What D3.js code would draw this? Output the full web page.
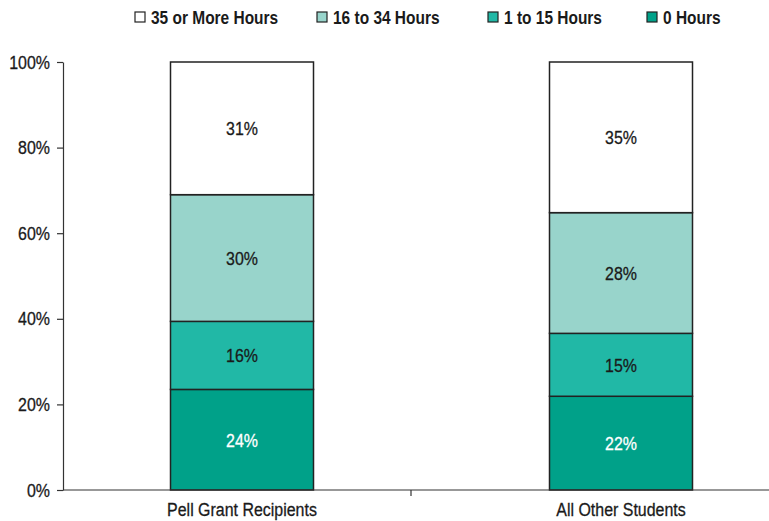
<!DOCTYPE html>
<html>
<head>
<meta charset="utf-8">
<script src="https://cdn.jsdelivr.net/npm/d3@7"></script>
<style>
  body { margin: 0; background: #fff; }
  svg { display: block; }
  text { font-family: "Liberation Sans", Arial, sans-serif; }
</style>
</head>
<body>
<div id="chart"></div>
<script>
// datos
const categorias = ["Pell Grant Recipients", "All Other Students"];
const series = ["0 Hours", "1 to 15 Hours", "16 to 34 Hours", "35 or More Hours"];
const pell = [23.5, 15.9, 29.6, 31.0];
const otros = [21.9, 14.7, 28.2, 35.2];
const ticksY = [0, 20, 40, 60, 80, 100];
const colores = ["#00a189", "#21b8a6", "#98d4cb", "#ffffff"];
const colorTexto = ["#ffffff", "#1a1a1a", "#1a1a1a", "#1a1a1a"];

const WIDTH = 769;
const HEIGHT = 521;
const ANGOSTO = 0.84; // no hay fuente condensada, se comprime el texto

const SVG = d3.select("#chart").append("svg")
    .attr("width", WIDTH).attr("height", HEIGHT);

// escalas
const y = d3.scaleLinear().domain([0, 100]).range([490, 62]);
const x = d3.scalePoint().domain(categorias).range([242, 621]);
const anchoBarra = 143;

// armar stack
const filas = categorias.map((c, i) => {
    const vals = i == 0 ? pell : otros;
    const fila = { cat: c };
    series.forEach((s, j) => fila[s] = vals[j]);
    return fila;
});
const stack = d3.stack().keys(series)(filas);

// barras
const grupos = SVG.append("g").selectAll("g")
    .data(stack)
    .join("g")
    .attr("fill", (d, i) => colores[i]);

grupos.selectAll("rect")
    .data(d => d)
    .join("rect")
    .attr("x", d => x(d.data.cat) - anchoBarra / 2)
    .attr("width", anchoBarra)
    .attr("y", d => y(d[1]))
    .attr("height", d => y(d[0]) - y(d[1]))
    .attr("stroke", "#222")
    .attr("stroke-width", 1.5);

// etiquetas
grupos.selectAll("text")
    .data((d, i) => d.map(v => ({ v: v, i: i })))
    .join("text")
    .attr("transform", d => `translate(${x(d.v.data.cat)},${y((d.v[0] + d.v[1]) / 2)}) scale(${ANGOSTO},1)`)
    .attr("dy", "0.36em")
    .attr("text-anchor", "middle")
    .attr("font-size", 19)
    .attr("fill", d => colorTexto[d.i])
    .attr("stroke", d => colorTexto[d.i])
    .attr("stroke-width", 0.3)
    .text(d => Math.round(d.v[1] - d.v[0]) + "%");

// eje Y
const ejeY = SVG.append("g")
    .attr("transform", "translate(63,0)")
    .call(d3.axisLeft(y).tickValues(ticksY).tickFormat(d => d + "%").tickSize(6).tickSizeOuter(0));
ejeY.select(".domain").attr("stroke", "#333").attr("stroke-width", 1.2);
ejeY.selectAll(".tick line").attr("stroke", "#333").attr("stroke-width", 1.2);
ejeY.selectAll(".tick text")
    .attr("x", null)
    .attr("transform", `translate(-13,0) scale(${ANGOSTO},1)`)
    .attr("font-size", 19)
    .attr("font-family", "Liberation Sans, sans-serif")
    .attr("fill", "#1a1a1a")
    .attr("stroke", "#1a1a1a")
    .attr("stroke-width", 0.3);

// eje X
SVG.append("line")
    .attr("x1", 63).attr("x2", WIDTH)
    .attr("y1", y(0)).attr("y2", y(0))
    .attr("stroke", "#333").attr("stroke-width", 1.2);
SVG.append("line")
    .attr("x1", 411).attr("x2", 411)
    .attr("y1", y(0)).attr("y2", y(0) + 6)
    .attr("stroke", "#333").attr("stroke-width", 1.2);

SVG.append("g").selectAll("text")
    .data(categorias)
    .join("text")
    .attr("transform", d => `translate(${x(d)},516) scale(${ANGOSTO},1)`)
    .attr("text-anchor", "middle")
    .attr("font-size", 19)
    .attr("fill", "#1a1a1a")
    .attr("stroke", "#1a1a1a")
    .attr("stroke-width", 0.3)
    .text(d => d);

// leyenda (orden inverso)
const leyenda = [3, 2, 1, 0];
const posLeyenda = [135, 317, 488, 647];
const items = SVG.append("g").selectAll("g")
    .data(leyenda)
    .join("g")
    .attr("transform", (d, i) => `translate(${posLeyenda[i]},12)`);
items.append("rect")
    .attr("width", 10).attr("height", 10)
    .attr("fill", d => colores[d])
    .attr("stroke", "#222").attr("stroke-width", 1.2);
items.append("text")
    .attr("transform", "translate(16,11.5) scale(0.86,1)")
    .attr("font-size", 18)
    .attr("font-weight", "bold")
    .attr("fill", "#1a1a1a")
    .text(d => series[d]);
</script>
</body>
</html>
